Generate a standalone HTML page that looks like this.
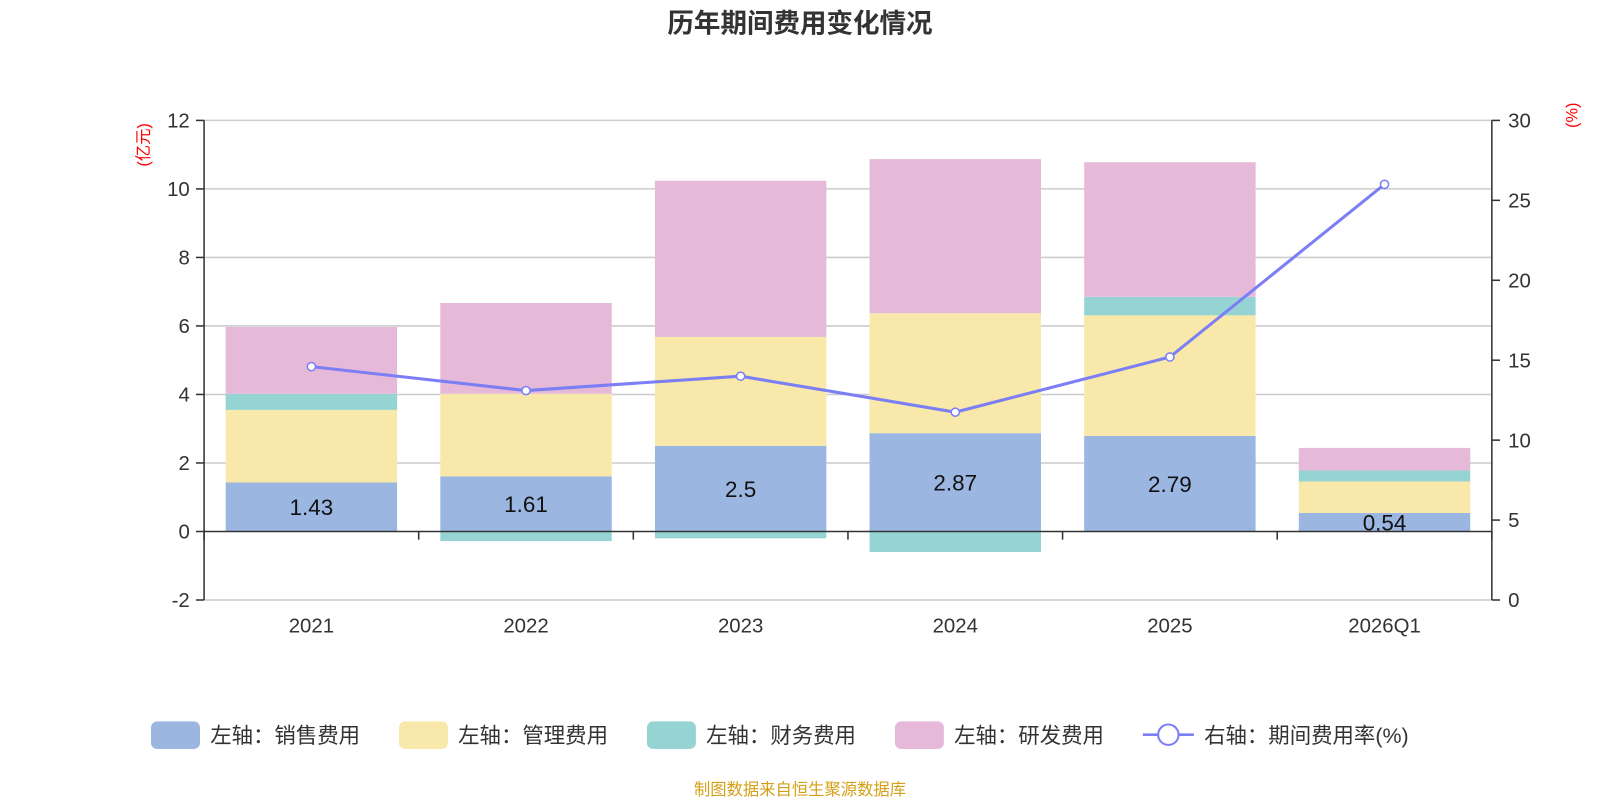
<!DOCTYPE html>
<html><head><meta charset="utf-8">
<style>
html,body{margin:0;padding:0;background:#fff;}
svg{display:block;font-family:"Liberation Sans","Noto Sans CJK SC",sans-serif;}
</style></head>
<body>
<svg id="chart" width="1600" height="800" viewBox="0 0 1568 784" xmlns="http://www.w3.org/2000/svg">
<text x="784" y="32" text-anchor="middle" font-size="26" font-weight="bold" fill="#333">历年期间费用变化情况</text>
<text transform="translate(146,142) rotate(-90)" text-anchor="middle" font-size="16" fill="#f00">(亿元)</text>
<text transform="translate(1546,113) rotate(-90)" text-anchor="middle" font-size="16" fill="#f00">(%)</text>
<g id="grid"></g><g id="bars"></g><g id="axes"></g><g id="line"></g><g id="legend"></g>
<text x="784" y="779" text-anchor="middle" font-size="16" fill="#D4A017">制图数据来自恒生聚源数据库</text>
</svg>
<script>
const categories=["2021","2022","2023","2024","2025","2026Q1"];
const sales=[1.43,1.61,2.5,2.87,2.79,0.54];
const admin=[2.12,2.41,3.18,3.5,3.52,0.92];
const finance=[0.47,-0.28,-0.2,-0.6,0.54,0.32];
const rnd=[1.95,2.65,4.56,4.5,3.93,0.66];
const rate=[14.6,13.1,14.0,11.75,15.2,26.0];
const leftTicks=[-2,0,2,4,6,8,10,12];
const rightTicks=[0,5,10,15,20,25,30];
const NS="http://www.w3.org/2000/svg";
const X0=200,X1=1462,YT=118,YB=588;
const yL=v=>YB-(v-(-2))/14*(YB-YT);
const yR=v=>YB-v/30*(YB-YT);
const bw=(X1-X0)/categories.length;
const xC=i=>X0+bw*(i+0.5);
function mk(tag,attrs,parent,text){const e=document.createElementNS(NS,tag);for(const k in attrs)e.setAttribute(k,attrs[k]);if(text!==undefined)e.textContent=text;document.getElementById(parent).appendChild(e);return e;}
leftTicks.forEach((t,i)=>{
 const y=yL(t);
 if(t!==0){const g=mk('line',{x1:X0,x2:X1,y1:y,y2:y,stroke:'#ccc','stroke-width':1.5},'grid');
 
 }
 const tk=mk('line',{x1:X0-8,x2:X0,y1:y,y2:y,stroke:'#333','stroke-width':1.5},'axes');
 
 
 const l=mk('text',{x:X0-14,y:y+7,'text-anchor':'end','font-size':20,fill:'#333'},'axes',String(t));
 
 
});
rightTicks.forEach(t=>{
 const y=yR(t);
 const tk=mk('line',{x1:X1,x2:X1+8,y1:y,y2:y,stroke:'#333','stroke-width':1.5},'axes');
 
 
 const l=mk('text',{x:X1+16,y:y+7,'font-size':20,fill:'#333'},'axes',String(t));
 
 
});
const series=[{d:sales,c:'#9BB7E1',n:'sales'},{d:admin,c:'#F8E8A9',n:'admin'},{d:finance,c:'#96D4D4',n:'finance'},{d:rnd,c:'#E6B9D9',n:'rnd'}];
categories.forEach((c,i)=>{
 let pos=0,neg=0;
 series.forEach(s=>{
  const v=s.d[i];let a,b;
  if(v>=0){a=pos;b=pos+v;pos=b;}else{a=neg;b=neg+v;neg=b;}
  const y1=yL(Math.max(a,b)),y2=yL(Math.min(a,b));
  const r=mk('rect',{x:xC(i)-84,y:y1,width:168,height:y2-y1,fill:s.c},'bars');
  
  
 });
 const t=mk('text',{x:xC(i),y:(yL(0)+yL(sales[i]))/2+8,'text-anchor':'middle','font-size':22,fill:'#111'},'bars',String(sales[i]));
 
 
 const xl=mk('text',{x:xC(i),y:620,'text-anchor':'middle','font-size':20,fill:'#333'},'axes',c);
 
 
});
const ax=mk('line',{x1:X0,x2:X0,y1:YT,y2:YB,stroke:'#333','stroke-width':1.5},'axes');


const ax2=mk('line',{x1:X1,x2:X1,y1:YT,y2:YB,stroke:'#333','stroke-width':1.5},'axes');


const xa=mk('line',{x1:X0,x2:X1,y1:yL(0),y2:yL(0),stroke:'#333','stroke-width':1.5},'axes');


for(let i=0;i<=categories.length;i++){
 const tk=mk('line',{x1:X0+bw*i,x2:X0+bw*i,y1:yL(0),y2:yL(0)+8,stroke:'#333','stroke-width':1.5},'axes');
 
 
}
const pts=rate.map((v,i)=>xC(i)+','+yR(v)).join(' ');
const pl=mk('polyline',{points:pts,fill:'none',stroke:'#7B7EF5','stroke-width':3},'line');


rate.forEach((v,i)=>{
 const p=mk('circle',{cx:xC(i),cy:yR(v),r:4,fill:'#fff',stroke:'#7B7EF5','stroke-width':1.5},'line');
 
 
});
const leg=[['左轴：销售费用','#9BB7E1',148],['左轴：管理费用','#F8E8A9',391],['左轴：财务费用','#96D4D4',634],['左轴：研发费用','#E6B9D9',877]];
leg.forEach(l=>{
 const r=mk('rect',{x:l[2],y:707,width:48,height:27,rx:6,fill:l[1]},'legend');
 
 
 const t=mk('text',{x:l[2]+58,y:728,'font-size':21,fill:'#333'},'legend',l[0]);
 
 
});
const ll=mk('line',{x1:1120,x2:1170,y1:720,y2:720,stroke:'#7B7EF5','stroke-width':2.5},'legend');


const lc=mk('circle',{cx:1145,cy:720,r:10,fill:'#fff',stroke:'#7B7EF5','stroke-width':2},'legend');


const lt=mk('text',{x:1180,y:728,'font-size':21,fill:'#333'},'legend','右轴：期间费用率(%)');


</script>
</body></html>
